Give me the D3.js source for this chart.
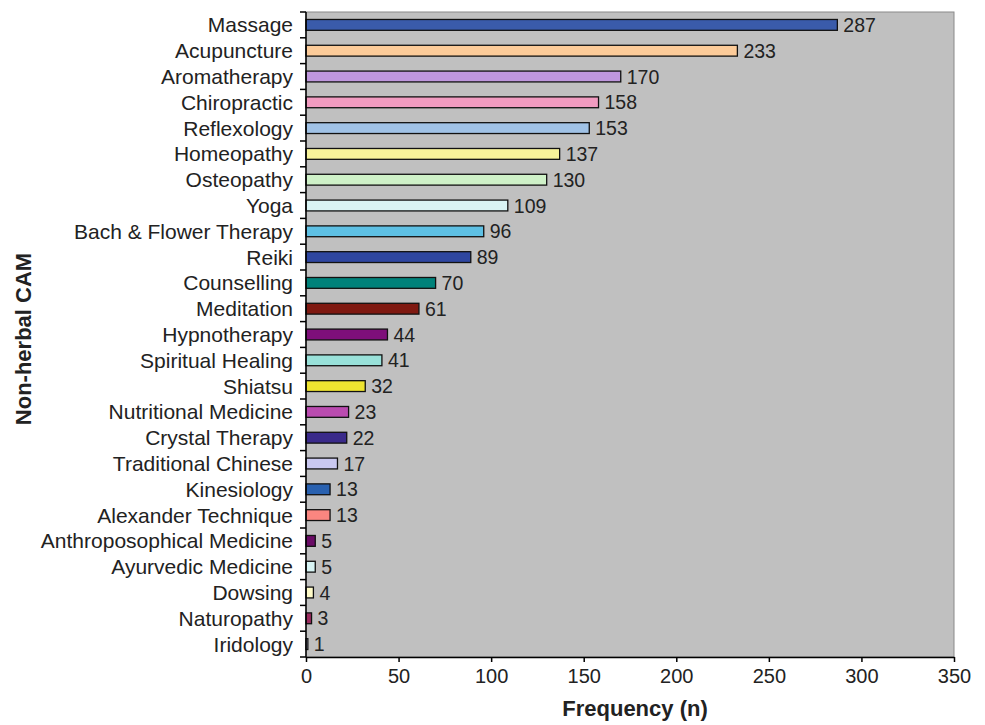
<!DOCTYPE html>
<html>
<head>
<meta charset="utf-8">
<script src="https://cdn.jsdelivr.net/npm/d3@7"></script>
<style>
  body { margin: 0; background: #fff; }
  text { font-family: "Liberation Sans", Arial, sans-serif; fill: #222; }
</style>
</head>
<body>
<div id="chart"></div>
<script>
const categories = [
  "Massage", "Acupuncture", "Aromatherapy", "Chiropractic", "Reflexology",
  "Homeopathy", "Osteopathy", "Yoga", "Bach & Flower Therapy", "Reiki",
  "Counselling", "Meditation", "Hypnotherapy", "Spiritual Healing", "Shiatsu",
  "Nutritional Medicine", "Crystal Therapy", "Traditional Chinese", "Kinesiology",
  "Alexander Technique", "Anthroposophical Medicine", "Ayurvedic Medicine",
  "Dowsing", "Naturopathy", "Iridology"
];
const frequency = [287, 233, 170, 158, 153, 137, 130, 109, 96, 89, 70, 61, 44, 41, 32, 23, 22, 17, 13, 13, 5, 5, 4, 3, 1];
const barColors = [
  "#3a5baa", "#fccb99", "#bf97dd", "#f19bc0", "#a0c2e6",
  "#f7f39a", "#cff1c8", "#d9f4f4", "#5ec0e4", "#2e46a0",
  "#00827a", "#7f1911", "#7e0f7a", "#99e1d9", "#eee430",
  "#ba4bb0", "#3a2a8a", "#c9c8f0", "#2961b0", "#fa8680",
  "#6a0b66", "#d8f5f5", "#fffbc8", "#9b2b5e", "#c9c8f0"
];
const xTicks = [0, 50, 100, 150, 200, 250, 300, 350];

const data = categories.map((c, i) => ({ name: c, value: frequency[i], color: barColors[i] }));

const W = 985, H = 725;
const margin = { top: 12, right: 31, bottom: 68, left: 306 };
const width = W - margin.left - margin.right;
const height = H - margin.top - margin.bottom;

const svg = d3.select("#chart").append("svg")
  .attr("width", W)
  .attr("height", H);

const g = svg.append("g")
  .attr("transform", "translate(" + margin.left + "," + margin.top + ")");

const x = d3.scaleLinear().domain([0, 350]).range([0, width]);
const y = d3.scaleBand().domain(categories).range([0, height]).paddingInner(0.58).paddingOuter(0.29);

// plot background
g.append("rect")
  .attr("width", width)
  .attr("height", height)
  .attr("fill", "#c0c0c0")
  .attr("stroke", "#8a8a8a")
  .attr("stroke-width", 1);

// bars
g.selectAll("rect.bar")
  .data(data)
  .enter()
  .append("rect")
  .attr("class", "bar")
  .attr("x", 0)
  .attr("y", d => y(d.name))
  .attr("width", d => x(d.value))
  .attr("height", y.bandwidth())
  .attr("fill", d => d.color)
  .attr("stroke", "#111")
  .attr("stroke-width", 1.3);

// value labels
g.selectAll("text.val")
  .data(data)
  .enter()
  .append("text")
  .attr("class", "val")
  .attr("x", d => x(d.value) + 6)
  .attr("y", d => y(d.name) + y.bandwidth() / 2)
  .attr("dy", "0.36em")
  .style("font-size", "19.5px")
  .text(d => d.value);

// x axis
const xAxis = g.append("g")
  .attr("transform", "translate(0," + height + ")")
  .call(d3.axisBottom(x).tickValues(xTicks).tickSize(5).tickSizeOuter(0));
xAxis.select(".domain").attr("stroke", "#000").attr("stroke-width", 1.5);
xAxis.selectAll(".tick line").attr("stroke", "#000").attr("stroke-width", 1.5);
xAxis.selectAll("text").style("font-size", "20px").attr("y", 12).attr("dy", "0.71em").attr("fill", "#222");

// y axis: ticks at category boundaries
const yAxis = g.append("g");
yAxis.append("line")
  .attr("x1", 0).attr("x2", 0)
  .attr("y1", 0).attr("y2", height)
  .attr("stroke", "#000").attr("stroke-width", 1.5);
const step = y.step();
const boundaries = d3.range(categories.length + 1).map(i => y(categories[0]) - y.paddingOuter() * step + i * step);
yAxis.selectAll("line.tk")
  .data(boundaries)
  .enter()
  .append("line")
  .attr("class", "tk")
  .attr("x1", -6).attr("x2", 0)
  .attr("y1", d => d).attr("y2", d => d)
  .attr("stroke", "#000").attr("stroke-width", 1.5);
yAxis.selectAll("text.cat")
  .data(data)
  .enter()
  .append("text")
  .attr("class", "cat")
  .attr("x", -13)
  .attr("y", d => y(d.name) + y.bandwidth() / 2)
  .attr("dy", "0.36em")
  .attr("text-anchor", "end")
  .style("font-size", "21px")
  .text(d => d.name);

// axis titles
svg.append("text")
  .attr("x", 635)
  .attr("y", 716)
  .attr("text-anchor", "middle")
  .style("font-size", "22px")
  .style("font-weight", "bold")
  .text("Frequency (n)");

svg.append("text")
  .attr("transform", "translate(31,339) rotate(-90)")
  .attr("text-anchor", "middle")
  .style("font-size", "22px")
  .style("font-weight", "bold")
  .text("Non-herbal CAM");
</script>
</body>
</html>
